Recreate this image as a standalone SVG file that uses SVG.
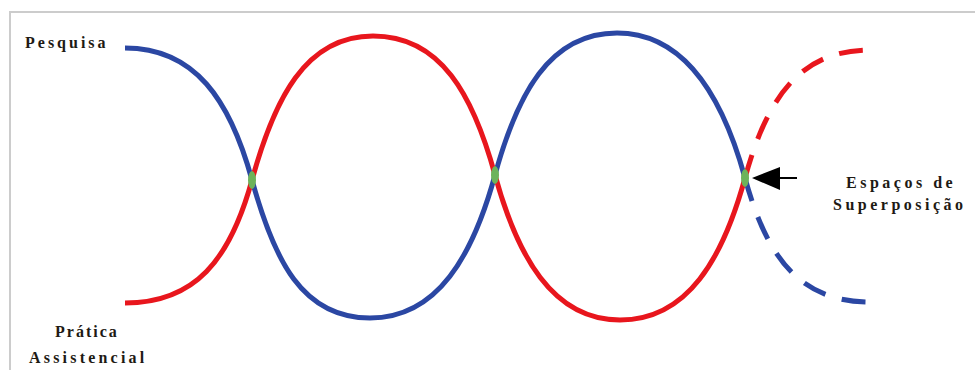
<svg xmlns="http://www.w3.org/2000/svg" width="975" height="370" viewBox="0 0 975 370">
<style>
.frame{fill:none;stroke:#cccccc;stroke-width:2}
.blue{fill:none;stroke:#2b47a3;stroke-width:5;stroke-linecap:butt}
.red{fill:none;stroke:#e8161d;stroke-width:5;stroke-linecap:butt}
.dash{stroke-dasharray:24 17}
.node{fill:#6db35a}
.lbl{font-family:"Liberation Serif","DejaVu Serif",serif;font-weight:bold;font-size:16px;fill:#1e1a14}
</style>
<rect width="975" height="370" fill="#ffffff"/>
<path class="frame" d="M10,371 L10,12 L976,12"/>
<g id="connectors">
<path id="pesquisa-line" class="blue" d="M125,48 C195,48 230,100 252,180 C274,260 302,318 370,318 C438,318 473,255 495,175 C517,95 549,33 617,33 C685,33 723,98 745,178"/>
<path id="pesquisa-dash" class="blue dash" d="M745,178 C767,258 800,302 870,302"/>
<path id="pratica-line" class="red" d="M125,303 C195,303 230,260 252,180 C274,100 305,36 373,36 C441,36 473,95 495,175 C517,255 552,320 620,320 C688,320 723,258 745,178"/>
<path id="pratica-dash" class="red dash" d="M745,178 C767,98 800,50 870,50"/>
<g id="arrow">
<line x1="778" y1="178" x2="797" y2="178" stroke="#000" stroke-width="2"/>
<polygon points="752,178 780,167 780,190" fill="#000"/>
</g>
</g>
<g id="overlap1"><ellipse class="node" cx="252" cy="180" rx="4" ry="9"/></g>
<g id="overlap2"><ellipse class="node" cx="495" cy="175" rx="4" ry="9"/></g>
<g id="overlap3"><ellipse class="node" cx="745" cy="178" rx="4" ry="9"/></g>
<g id="label-pesquisa"><text class="lbl" x="25" y="48" letter-spacing="3">Pesquisa</text></g>
<g id="label-pratica">
<text class="lbl" x="55" y="337" letter-spacing="2">Prática</text>
<text class="lbl" x="29" y="363" letter-spacing="3.2">Assistencial</text>
</g>
<g id="label-espacos">
<text class="lbl" x="846" y="188" letter-spacing="3.5">Espaços de</text>
<text class="lbl" x="833" y="210" letter-spacing="3.5">Superposição</text>
</g>
</svg>
